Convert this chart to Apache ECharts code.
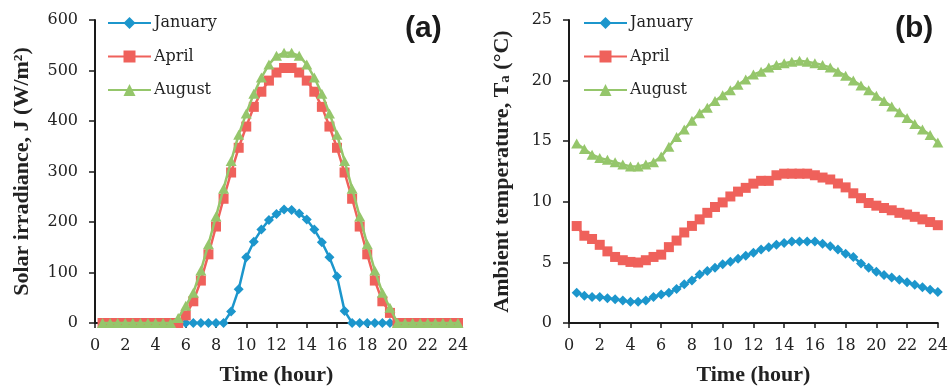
<!DOCTYPE html>
<html>
<head>
<meta charset="utf-8">
<script src="https://cdn.jsdelivr.net/npm/echarts@6/dist/echarts.min.js"></script>
<style>
  html, body { margin: 0; padding: 0; background: #fff; }
  #chart { width: 951px; height: 391px; }
</style>
</head>
<body>
<div id="chart"></div>
<script>
// ---------- data ----------
const hours = [0.5,1,1.5,2,2.5,3,3.5,4,4.5,5,5.5,6,6.5,7,7.5,8,8.5,9,9.5,10,10.5,11,11.5,12,
               12.5,13,13.5,14,14.5,15,15.5,16,16.5,17,17.5,18,18.5,19,19.5,20,20.5,21,21.5,22,22.5,23,23.5,24];
const seriesNames = ['January', 'April', 'August'];

// (a) solar irradiance, W/m2
const janIrr = [0,0,0,0,0,0,0,0,0,0,0,0,0,0,0,0,0,
                23,67,130,161,185,204,216,225,224,217,205,185,160,130,92,24,
                0,0,0,0,0,0,0,0,0,0,0,0,0,0,0];
const aprIrr = [0,0,0,0,0,0,0,0,0,0,0,
                15,43,84,136,191,246,298,347,389,428,458,480,496,505,505,496,480,458,428,389,347,298,246,191,136,84,43,20,
                0,0,0,0,0,0,0,0,0];
const augIrr = [0,0,0,0,0,0,0,0,0,0,
                10,34,60,104,156,211,266,321,373,415,454,486,512,529,535,535,529,512,486,454,415,373,321,266,211,156,104,60,30,
                0,0,0,0,0,0,0,0,0];

// (b) ambient temperature, degC
const janTemp = [2.5,2.25,2.15,2.15,2.05,1.95,1.85,1.75,1.75,1.85,2.15,2.35,2.5,2.8,3.2,3.5,4.0,4.3,4.55,4.85,5.05,5.3,5.55,5.8,
                 6.07,6.26,6.45,6.61,6.72,6.72,6.72,6.72,6.53,6.34,6.07,5.72,5.45,4.91,4.56,4.23,3.96,3.75,3.56,3.37,3.16,2.94,2.75,2.56];
const aprTemp = [8.0,7.2,6.93,6.45,5.91,5.45,5.18,5.04,4.99,5.18,5.45,5.64,6.26,6.8,7.47,8.01,8.55,9.09,9.57,9.95,10.44,10.84,11.15,11.5,
                 11.73,11.73,12.19,12.32,12.32,12.32,12.32,12.19,12.0,11.84,11.51,11.19,10.7,10.3,9.9,9.68,9.49,9.3,9.09,8.95,8.76,8.55,8.33,8.07];
const augTemp = [14.81,14.35,13.89,13.62,13.46,13.27,13.08,12.92,12.92,13.08,13.27,13.73,14.54,15.35,15.96,16.69,17.31,17.77,18.31,18.8,19.2,19.66,20.09,20.5,
                 20.74,21.09,21.28,21.44,21.55,21.63,21.55,21.44,21.28,21.09,20.74,20.41,20.01,19.6,19.2,18.74,18.31,17.86,17.39,16.91,16.42,15.96,15.51,14.89];

const xTicks = [0,2,4,6,8,10,12,14,16,18,20,22,24];

// ---------- styling ----------
const colors = ['#1C96CC', '#EF615B', '#95C66B'];
const symbols = ['diamond', 'rect', 'triangle'];
const symbolSizes = [[10, 10], [10, 10], [11, 10]];
const serif = '"Liberation Serif", "Times New Roman", serif';
const labelFont = '"DejaVu Serif", serif';
const axisColor = '#1a1a1a';
const textColor = '#222';

function pair(xs, ys) { return xs.map((x, i) => [x, ys[i]]); }

function makeX(gridIndex) {
  return {
    type: 'value', gridIndex, min: 0, max: 24, interval: 2,
    name: 'Time (hour)', nameLocation: 'middle', nameGap: 41,
    nameTextStyle: { fontFamily: serif, fontWeight: 'bold', fontSize: 22, color: textColor },
    axisLine: { show: true, onZero: false, lineStyle: { color: axisColor, width: 2 } },
    axisTick: { show: true, inside: false, length: 5, lineStyle: { color: axisColor, width: 1.5 } },
    axisLabel: { fontFamily: labelFont, fontSize: 16, color: textColor, margin: 15,
                 formatter: v => (xTicks.indexOf(v) >= 0 ? String(v) : '') },
    splitLine: { show: false }
  };
}
function makeY(gridIndex, max, interval, name, gap, rich) {
  return {
    type: 'value', gridIndex, min: 0, max, interval,
    name, nameLocation: 'middle', nameGap: gap, nameRotate: 90,
    nameTextStyle: { fontFamily: serif, fontWeight: 'bold', fontSize: 22, color: textColor, rich },
    axisLine: { show: true, lineStyle: { color: axisColor, width: 2 } },
    axisTick: { show: true, inside: false, length: 6, lineStyle: { color: axisColor, width: 1.5 } },
    axisLabel: { fontFamily: labelFont, fontSize: 16, color: textColor, margin: 17 },
    splitLine: { show: false }
  };
}

function makeSeries(idx, xAxisIndex, yAxisIndex, values) {
  return {
    type: 'line', name: seriesNames[idx], xAxisIndex, yAxisIndex,
    data: pair(hours, values),
    showSymbol: true, symbol: symbols[idx], symbolSize: symbolSizes[idx],
    lineStyle: { color: colors[idx], width: 2.5 },
    itemStyle: { color: colors[idx], borderWidth: 0 },
    emphasis: { disabled: true },
    z: 2 + idx
  };
}

function makeLegend(left) {
  return {
    orient: 'vertical', left, top: 15, padding: 0, itemWidth: 43, itemHeight: 15, itemGap: 17.5,
    data: seriesNames,
    textStyle: { fontFamily: labelFont, fontSize: 16, color: textColor, padding: [0, 0, 0, -2] },
    selectedMode: false
  };
}

const chart = echarts.init(document.getElementById('chart'), null, { renderer: 'canvas' });
chart.setOption({
  animation: false,
  backgroundColor: '#fff',
  color: colors,
  grid: [
    { left: 95, right: 493, top: 20, bottom: 63, containLabel: false },
    { left: 569, right: 12, top: 20, bottom: 62, containLabel: false }
  ],
  xAxis: [makeX(0), makeX(1)],
  yAxis: [
    makeY(0, 600, 100, 'Solar irradiance, J (W/m²)', 62, {}),
    makeY(1, 25, 5, 'Ambient temperature, T{sub|a} (°C)', 56, {
      sub: { fontFamily: serif, fontWeight: 'bold', fontSize: 15, color: textColor, verticalAlign: 'bottom', lineHeight: 15 }
    })
  ],
  legend: [makeLegend(107), makeLegend(583)],
  series: [
    makeSeries(0, 0, 0, janIrr),
    makeSeries(1, 0, 0, aprIrr),
    makeSeries(2, 0, 0, augIrr),
    makeSeries(0, 1, 1, janTemp),
    makeSeries(1, 1, 1, aprTemp),
    makeSeries(2, 1, 1, augTemp)
  ],
  graphic: [
    { type: 'text', left: 405, top: 14, style: { text: '(a)', font: 'bold 30px "Liberation Sans", Arial, sans-serif', fill: '#1a1a1a' } },
    { type: 'text', left: 895, top: 14, style: { text: '(b)', font: 'bold 30px "Liberation Sans", Arial, sans-serif', fill: '#1a1a1a' } }
  ]
});
</script>
</body>
</html>
